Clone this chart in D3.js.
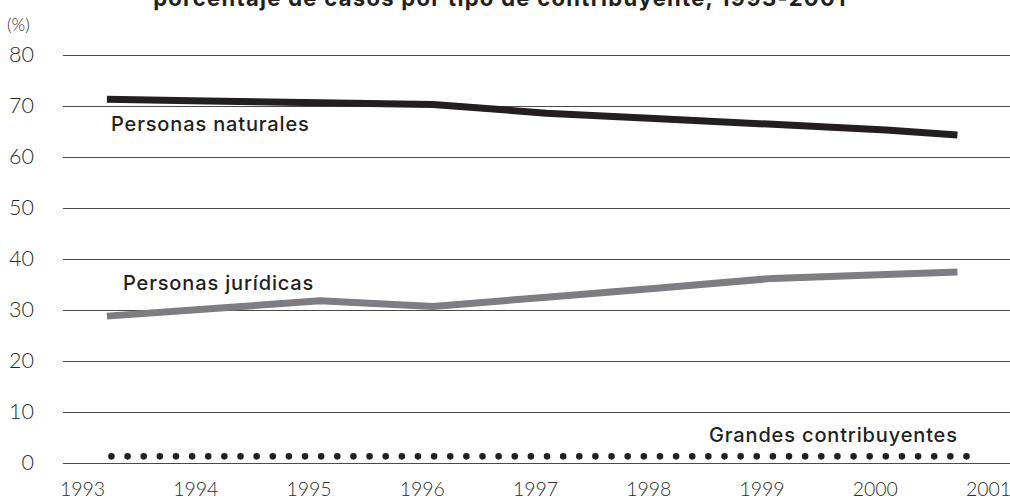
<!DOCTYPE html>
<html lang="es">
<head>
<meta charset="utf-8">
<title>Casos por tipo de contribuyente</title>
<script src="https://cdn.jsdelivr.net/npm/d3@7/dist/d3.min.js"></script>
<style>
  html, body { margin: 0; padding: 0; background: #fff; }
  svg { display: block; }
  .tick text { font-family: Lato, Inter, sans-serif; font-weight: 300; fill: #2b2b2b; }
  .serie-label { font-family: Inter, "Noto Sans", sans-serif; font-weight: 500; fill: #231f20; letter-spacing: 0.85px; }
</style>
</head>
<body>
<svg id="chart" width="1010" height="500"></svg>
<script>
// Periodos (años fraccionarios) en que se registra cada serie
const periodos = [1993.22, 1994.1, 1995.1, 1996.1, 1997.1, 1998.1, 1999.1, 2000.1, 2000.73];
// Porcentaje de casos por tipo de contribuyente
const personasNaturales = [71.3, 71.0, 70.65, 70.3, 68.6, 67.5, 66.4, 65.3, 64.3];
const personasJuridicas = [28.8, 30.2, 31.8, 30.7, 32.5, 34.3, 36.2, 36.95, 37.45];
const periodosGrandes = [1993.26, 2000.81];
const grandesContribuyentes = [1.3, 1.3];
// Etiquetas de los ejes
const anios = [1993, 1994, 1995, 1996, 1997, 1998, 1999, 2000, 2001];
const ticksPorcentaje = [0, 10, 20, 30, 40, 50, 60, 70, 80];
const titulo = "porcentaje de casos por tipo de contribuyente, 1993-2001";

const svg = d3.select("#chart");

const x = d3.scaleLinear().domain([1993, 2001]).range([82, 988]);
const y = d3.scaleLinear().domain([0, 80]).range([463, 55]);

const gridLeft = 63, gridRight = 1010;

// Título (parcialmente recortado en el borde superior)
svg.append("text")
  .attr("x", 500).attr("y", 6)
  .attr("text-anchor", "middle")
  .style("font-family", "Inter, 'Noto Sans', sans-serif")
  .style("font-weight", "700")
  .style("font-size", "22px")
  .style("letter-spacing", "1.3px")
  .style("fill", "#231f20")
  .text(titulo);

// Unidad del eje vertical
svg.append("text")
  .attr("x", 7).attr("y", 31)
  .style("font-family", "Lato, Inter, sans-serif")
  .style("font-weight", "300")
  .style("font-size", "17.5px")
  .style("fill", "#2b2b2b")
  .text("(%)");

// Eje Y con líneas de cuadrícula horizontales
const yAxis = svg.append("g")
  .attr("transform", `translate(${gridLeft},0)`)
  .call(d3.axisLeft(y)
    .tickValues(ticksPorcentaje)
    .tickSize(-(gridRight - gridLeft))
    .tickPadding(29)
    .tickFormat(d3.format("d")));
yAxis.select(".domain").remove();
yAxis.selectAll(".tick line").attr("stroke", "#4a4a4a").attr("stroke-width", 1.2);
yAxis.selectAll(".tick text").style("font-size", "21.5px");

// Eje X con los años
const xAxis = svg.append("g")
  .attr("transform", "translate(0,478)")
  .call(d3.axisBottom(x)
    .tickValues(anios)
    .tickSize(0)
    .tickPadding(0)
    .tickFormat(d3.format("d")));
xAxis.select(".domain").remove();
xAxis.selectAll(".tick text").style("font-size", "19.5px").attr("dy", "0.9em");

const line = d3.line()
  .x(d => x(d[0]))
  .y(d => y(d[1]));

// Personas jurídicas
svg.append("path")
  .datum(d3.zip(periodos, personasJuridicas))
  .attr("fill", "none")
  .attr("stroke", "#7e7e82")
  .attr("stroke-width", 7)
  .attr("d", line);

// Personas naturales
svg.append("path")
  .datum(d3.zip(periodos, personasNaturales))
  .attr("fill", "none")
  .attr("stroke", "#231f20")
  .attr("stroke-width", 7)
  .attr("d", line);

// Grandes contribuyentes: línea punteada
const pathGrandes = svg.append("path")
  .datum(d3.zip(periodosGrandes, grandesContribuyentes))
  .attr("fill", "none")
  .attr("stroke", "#231f20")
  .attr("stroke-width", 6.6)
  .attr("stroke-linecap", "round")
  .attr("d", line);
const largo = pathGrandes.node().getTotalLength();
const nPuntos = Math.round(largo / 16.2);
pathGrandes.attr("stroke-dasharray", `0 ${largo / nPuntos}`);

// Rótulos de las series
svg.append("text").attr("class", "serie-label")
  .attr("x", 111).attr("y", 131).style("font-size", "20px")
  .text("Personas naturales");
svg.append("text").attr("class", "serie-label")
  .attr("x", 123).attr("y", 290).style("font-size", "20px")
  .text("Personas jurídicas");
svg.append("text").attr("class", "serie-label")
  .attr("x", 709).attr("y", 442).style("font-size", "20px")
  .text("Grandes contribuyentes");
</script>
</body>
</html>
